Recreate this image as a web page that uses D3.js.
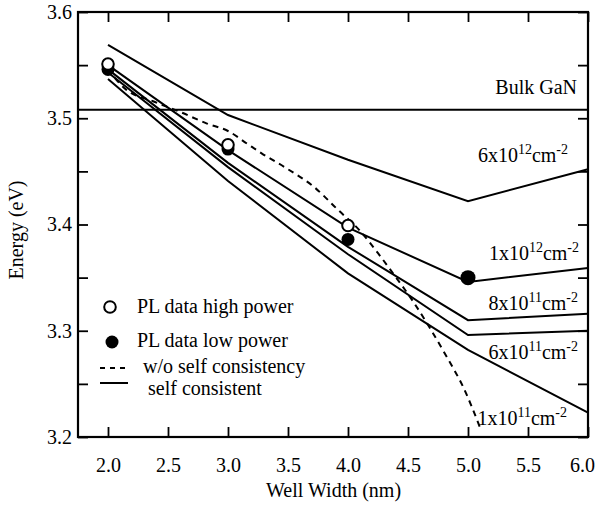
<!DOCTYPE html>
<html lang="en">
<head>
  <meta charset="UTF-8">
  <title>Energy vs Well Width</title>
  <style>
    body {
      margin: 0;
      padding: 0;
      background-color: #ffffff;
    }
    svg {
      display: block;
      font-family: "Liberation Serif", "Times New Roman", serif;
    }
    .axis text {
      font-family: "Liberation Serif", "Times New Roman", serif;
      font-size: 20px;
      fill: #000;
    }
    .axis line {
      stroke: #000;
      stroke-width: 1.8;
    }
  </style>
</head>
<body>

<svg></svg>

<script src="https://d3js.org/d3.v7.min.js"></script>
<script>
  const width = 600, height = 506;

  // well widths where the self consistent curves were computed (nm)
  const widths = [2.0, 3.0, 4.0, 5.0, 6.0];

  // self consistent transition energies (eV), one array per sheet density
  const energy6e12 = [3.569, 3.503, 3.461, 3.422, 3.452];
  const energy1e12 = [3.550, 3.470, 3.397, 3.346, 3.359];
  const energy8e11 = [3.546, 3.458, 3.379, 3.310, 3.316];
  const energy6e11 = [3.543, 3.454, 3.372, 3.296, 3.300];
  const energy1e11 = [3.537, 3.441, 3.354, 3.282, 3.223];

  // w/o self consistency curve
  const noScWidth  = [2.0, 2.14, 2.375, 2.6, 2.825, 3.0, 3.16, 3.28, 3.5, 3.71, 3.91, 4.1, 4.25, 4.375, 4.54, 4.68, 4.825, 4.96, 5.1];
  const noScEnergy = [3.546, 3.528, 3.516, 3.506, 3.495, 3.488, 3.476, 3.467, 3.452, 3.436, 3.4145, 3.394, 3.373, 3.354, 3.328, 3.303, 3.275, 3.247, 3.209];

  // PL data
  const plHighWidth  = [2.0, 3.0, 4.0];
  const plHighEnergy = [3.551, 3.475, 3.399];
  const plLowWidth   = [2.0, 3.0, 4.0, 5.0];
  const plLowEnergy  = [3.546, 3.471, 3.386, 3.350];

  const bulkGaN = 3.508;

  const xTicks = [2.0, 2.5, 3.0, 3.5, 4.0, 4.5, 5.0, 5.5, 6.0];
  const yTicks = [3.2, 3.25, 3.3, 3.35, 3.4, 3.45, 3.5, 3.55, 3.6];

  // labels of the curves: mantissa, exponent, energy at label baseline
  const curveLabels = [
    { base: "6x10", exp: "12", e: 3.459 },
    { base: "1x10", exp: "12", e: 3.367 },
    { base: "8x10", exp: "11", e: 3.320 },
    { base: "6x10", exp: "11", e: 3.273 },
    { base: "1x10", exp: "11", e: 3.211 }
  ];
  const labelRight = [568, 579, 578, 578, 567];

  const x = d3.scaleLinear().domain([1.75, 6.0]).range([78, 588]);
  const y = d3.scaleLinear().domain([3.2, 3.6]).range([437, 12]);

  const svg = d3.select("svg")
    .attr("width", width)
    .attr("height", height)
    .attr("viewBox", `0 0 ${width} ${height}`);

  // axes, ticks pointing inwards
  const fmtMajor = d => (Math.round(d * 100) % 10 === 0 ? d.toFixed(1) : "");

  svg.append("g")
    .attr("class", "axis")
    .attr("transform", `translate(0,${y(3.2)})`)
    .call(d3.axisBottom(x).tickValues(xTicks).tickSize(-10).tickPadding(21).tickFormat(d3.format(".1f")))
    .call(g => g.select(".domain").remove())
    .call(g => g.selectAll("text").filter(d => d === 6.0).attr("dx", -6));

  svg.append("g")
    .attr("class", "axis")
    .attr("transform", `translate(0,${y(3.6)})`)
    .call(d3.axisTop(x).tickValues(xTicks).tickSize(-10).tickFormat(""))
    .call(g => g.select(".domain").remove());

  svg.append("g")
    .attr("class", "axis")
    .attr("transform", `translate(${x(1.75)},0)`)
    .call(d3.axisLeft(y).tickValues(yTicks).tickSize(-10).tickPadding(6).tickFormat(fmtMajor))
    .call(g => g.select(".domain").remove());

  svg.append("g")
    .attr("class", "axis")
    .attr("transform", `translate(${x(6.0)},0)`)
    .call(d3.axisRight(y).tickValues(yTicks).tickSize(-10).tickFormat(""))
    .call(g => g.select(".domain").remove());

  svg.append("rect")
    .attr("x", x(1.75))
    .attr("y", y(3.6))
    .attr("width", x(6.0) - x(1.75))
    .attr("height", y(3.2) - y(3.6))
    .attr("fill", "none")
    .attr("stroke", "#000")
    .attr("stroke-width", 2.2);

  // axis titles
  svg.append("text")
    .attr("x", x(3.88))
    .attr("y", 497)
    .attr("text-anchor", "middle")
    .attr("font-size", 20)
    .text("Well Width (nm)");

  svg.append("text")
    .attr("transform", `translate(23,230) rotate(-90)`)
    .attr("text-anchor", "middle")
    .attr("font-size", 20)
    .text("Energy (eV)");

  // bulk GaN line
  svg.append("line")
    .attr("x1", x(1.75)).attr("x2", x(6.0))
    .attr("y1", y(bulkGaN)).attr("y2", y(bulkGaN))
    .attr("stroke", "#000")
    .attr("stroke-width", 1.8);

  svg.append("text")
    .attr("x", 577)
    .attr("y", 94)
    .attr("text-anchor", "end")
    .attr("font-size", 20)
    .text("Bulk GaN");

  // self consistent curves
  const line = d3.line()
    .x(d => x(d[0]))
    .y(d => y(d[1]));

  const curves = [energy6e12, energy1e12, energy8e11, energy6e11, energy1e11];
  svg.selectAll("path.sc")
    .data(curves)
    .enter()
    .append("path")
    .attr("class", "sc")
    .attr("d", d => line(d3.zip(widths, d)))
    .attr("fill", "none")
    .attr("stroke", "#000")
    .attr("stroke-width", 2);

  // w/o self consistency
  svg.append("path")
    .attr("d", line.curve(d3.curveMonotoneX)(d3.zip(noScWidth, noScEnergy)))
    .attr("fill", "none")
    .attr("stroke", "#000")
    .attr("stroke-width", 2)
    .attr("stroke-dasharray", "6,5");

  // PL data points
  svg.selectAll("circle.low")
    .data(d3.zip(plLowWidth, plLowEnergy))
    .enter()
    .append("circle")
    .attr("class", "low")
    .attr("cx", d => x(d[0]))
    .attr("cy", d => y(d[1]))
    .attr("r", (d, i) => (i === 3 ? 7.5 : 6.5))
    .attr("fill", "#000");

  svg.selectAll("circle.high")
    .data(d3.zip(plHighWidth, plHighEnergy))
    .enter()
    .append("circle")
    .attr("class", "high")
    .attr("cx", d => x(d[0]))
    .attr("cy", d => y(d[1]))
    .attr("r", 5.8)
    .attr("fill", "#fff")
    .attr("stroke", "#000")
    .attr("stroke-width", 2);

  // curve labels with superscripts
  curveLabels.forEach((l, i) => {
    const t = svg.append("text")
      .attr("x", labelRight[i])
      .attr("y", y(l.e))
      .attr("text-anchor", "end")
      .attr("font-size", 20);
    t.append("tspan").text(l.base);
    t.append("tspan").attr("font-size", 14).attr("dy", -8).text(l.exp);
    t.append("tspan").attr("dy", 8).text("cm");
    t.append("tspan").attr("font-size", 14).attr("dy", -8).text("-2");
  });

  // legend
  const legend = svg.append("g");
  legend.append("circle")
    .attr("cx", 110).attr("cy", 307).attr("r", 5.8)
    .attr("fill", "#fff").attr("stroke", "#000").attr("stroke-width", 2);
  legend.append("circle")
    .attr("cx", 112).attr("cy", 342).attr("r", 6.5)
    .attr("fill", "#000");
  legend.append("line")
    .attr("x1", 100).attr("x2", 126).attr("y1", 368).attr("y2", 368)
    .attr("stroke", "#000").attr("stroke-width", 2).attr("stroke-dasharray", "5,5");
  legend.append("line")
    .attr("x1", 100).attr("x2", 128).attr("y1", 383).attr("y2", 383)
    .attr("stroke", "#000").attr("stroke-width", 2);

  const legendText = [
    { t: "PL data high power", x: 137, y: 313 },
    { t: "PL data low power", x: 137, y: 347 },
    { t: "w/o self consistency", x: 143, y: 373 },
    { t: "self consistent", x: 148, y: 395 }
  ];
  legend.selectAll("text")
    .data(legendText)
    .enter()
    .append("text")
    .attr("x", d => d.x)
    .attr("y", d => d.y)
    .attr("font-size", 20)
    .text(d => d.t);
</script>

</body>
</html>
